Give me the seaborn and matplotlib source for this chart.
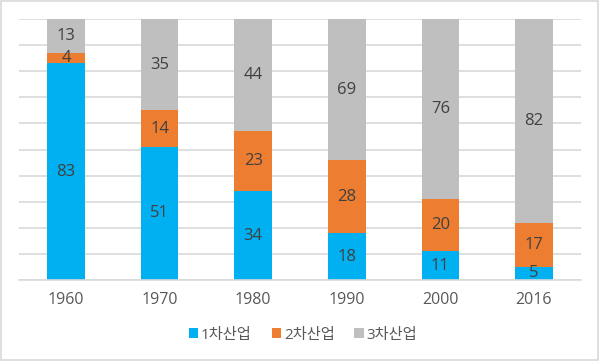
import matplotlib.pyplot as plt
import seaborn as sns
import numpy as np
from matplotlib.patches import Rectangle

years = ["1960", "1970", "1980", "1990", "2000", "2016"]
primary = [83, 51, 34, 18, 11, 5]
secondary = [4, 14, 23, 28, 20, 17]
tertiary = [13, 35, 44, 69, 76, 82]
series_names = ["1차산업", "2차산업", "3차산업"]
colors = ["#00B0F0", "#ED7D31", "#BFBFBF"]

sns.set_theme(style="white")
plt.rcParams["font.family"] = ["Open Sans", "Noto Sans CJK KR", "DejaVu Sans"]

fig = plt.figure(figsize=(6, 3.61), dpi=100)
ax = fig.add_axes([0.032, 0.2244, 0.936, 0.7226])

x = np.arange(len(years))
bottom = np.zeros(len(years))
for name, vals, col in zip(series_names, [primary, secondary, tertiary], colors):
    bars = ax.bar(x, vals, width=0.4, bottom=bottom, color=col, label=name,
                  linewidth=0, zorder=2)
    ax.bar_label(bars, labels=[str(v) for v in vals], label_type="center",
                 fontsize=12, color="#404040")
    bottom += np.array(vals)

ax.set_ylim(0, 100)
ax.set_xlim(-0.5, len(years) - 0.5)
ax.set_yticks(np.arange(0, 101, 10))
ax.set_yticklabels([])
ax.tick_params(axis="y", length=0)
ax.set_xticks(x)
ax.set_xticklabels(years, fontsize=11.5, color="#595959")
ax.tick_params(axis="x", length=0, pad=9)
ax.grid(axis="y", color="#D9D9D9", linewidth=1.2, zorder=0)
for s in ["top", "right", "left"]:
    ax.spines[s].set_visible(False)
ax.spines["bottom"].set_color("#D9D9D9")
ax.spines["bottom"].set_linewidth(1.2)
ax.set_axisbelow(True)

leg = fig.legend(loc="center", bbox_to_anchor=(0.505, 0.072), ncol=3,
                 frameon=False, fontsize=11, handlelength=0.6, handleheight=0.6,
                 handletextpad=0.2, columnspacing=1.3)
for t in leg.get_texts():
    t.set_color("#595959")

fig.patches.append(Rectangle((0.002, 0.003), 0.995, 0.993, transform=fig.transFigure,
                             fill=False, edgecolor="#D9D9D9", linewidth=1.2))

fig.savefig("out.png", dpi=100)
